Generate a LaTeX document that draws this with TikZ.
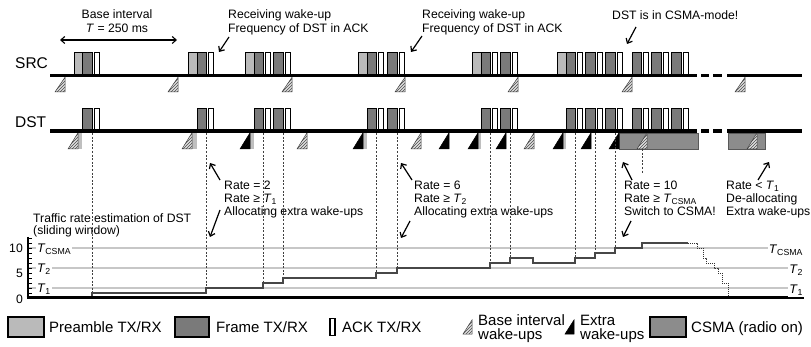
\documentclass[tikz,border=0pt]{standalone}
\usepackage{fontspec}
\setmainfont{Liberation Sans}
\usetikzlibrary{arrows.meta,patterns}
\begin{document}
\begin{tikzpicture}[x=1pt,y=-1pt,
  tline/.style={line width=3.6pt},
  pream/.style={fill=black!27, draw=black, line width=0.9pt},
  frm/.style={fill=black!52, draw=black, line width=0.9pt},
  ackbox/.style={fill=white, draw=black, line width=0.9pt},
  hw/.style={pattern=north east lines, pattern color=black!70, preaction={fill=black!12}, draw=black!75, line width=0.5pt},
  xw/.style={fill=black, draw=black, line width=0.5pt},
  rxstrip/.style={fill=black!25},
  csmareg/.style={fill=black!45, draw=black!65, line width=0.5pt},
  dsh/.style={dash pattern=on 2pt off 1.6pt, line width=0.6pt, black!75},
  thr/.style={black!22, line width=1.3pt},
  stepl/.style={black!72, line width=1.4pt},
  ann/.style={font=\fontsize{12.2}{14}\selectfont, inner sep=0pt},
  tlab/.style={font=\fontsize{12.5}{14}\selectfont, inner sep=0.8pt, fill=white},
  leg/.style={font=\fontsize{15}{17}\selectfont, inner sep=0pt},
  big/.style={font=\fontsize{15.5}{17}\selectfont, inner sep=0pt},
  arr/.style={-{Straight Barb[length=4pt,width=7pt]}, line width=1.2pt},
  darr/.style={{Straight Barb[length=4pt,width=7pt]}-{Straight Barb[length=4pt,width=7pt]}, line width=1.1pt},
]
\useasboundingbox (0,0) rectangle (811,347);

% ---------------- row labels
\node[big, anchor=base west] (src) at (15,68.4) {SRC};
\node[big, anchor=base west] (dst) at (15,127.4) {DST};

% ---------------- blocks (SRC top 52, DST top 108)
\foreach \a/\b in {74/82, 188/197, 245/254, 358/367, 472/481, 557/566}
  \draw[pream] (\a,52) rectangle (\b,75);
\foreach \t in {52,108}{
  \foreach \a/\b in {82/92, 197/206, 254/263, 273/283, 367/376, 387/397, 481/490, 500/510, 566/575, 585/595, 605/615, 632/641, 651/661, 671/681}
    \draw[frm] (\a,\t) rectangle (\b,\t+23);
  \foreach \a/\b in {94/99, 208/213, 265/270, 285/290, 378/383, 399/404, 492/497, 512/517, 577/582, 597/602, 617/622, 643/648, 663/668, 683/688}
    \draw[ackbox] (\a,\t) rectangle (\b,\t+23);
}

% ---------------- CSMA regions under DST
\draw[csmareg] (619,132.8) rectangle (698,149);
\draw[csmareg] (728,132.8) rectangle (765,149);

% ---------------- wake-ups SRC
\foreach \x in {65,178,292,405,518,632,745}
  \draw[hw] (\x-10,92) -- (\x,92) -- (\x,77.3) -- cycle;

% ---------------- wake-ups DST
\foreach \x/\e in {78/82, 192/197, 250/254, 363/367, 478/481, 563/566}
  \fill[rxstrip] (\x,132.8) rectangle (\e,149);
\foreach \x in {78,192,307,421,534,647,757}
  \draw[hw] (\x-10,149) -- (\x,149) -- (\x,132.8) -- cycle;
\foreach \x in {250,363,449,478,506,563,591,619}
  \draw[xw] (\x-10,149) -- (\x,149) -- (\x,132.8) -- cycle;

% ---------------- timelines
\foreach \yy in {75.5,131}{
  \draw[tline] (50,\yy) -- (697,\yy);
  \draw[tline] (701,\yy) -- (709,\yy);
  \draw[tline] (713,\yy) -- (722,\yy);
  \draw[tline] (727,\yy) -- (802,\yy);
}

% ---------------- graph
\draw[thr] (28,248) -- (803,248);
\draw[thr] (28,268) -- (803,268);
\draw[thr] (28,288) -- (803,288);

\foreach \x/\yv in {92/293, 206/288, 263/283, 283/278, 376/273, 397/268, 490/263, 510/258, 575/258, 595/253, 615/248}
  \draw[dsh] (\x,133) -- (\x,\yv);
\draw[dsh] (642,149) -- (642,173);

\draw[stepl] (28,298) -- (92,298) -- (92,293) -- (206,293) -- (206,288) -- (263,288) -- (263,283) -- (283,283) -- (283,278) -- (376,278) -- (376,273) -- (397,273) -- (397,268) -- (490,268) -- (490,263) -- (510,263) -- (510,258) -- (533,258) -- (533,263) -- (575,263) -- (575,258) -- (595,258) -- (595,253) -- (615,253) -- (615,248) -- (642,248) -- (642,243) -- (688,243);
\draw[black!80, line width=0.9pt, dash pattern=on 1pt off 1pt] (688,243) -- (697,243) -- (697,248) -- (703,248) -- (703,258) -- (706,258) -- (706,263) -- (714,263) -- (714,268) -- (718,268) -- (718,273) -- (722,273) -- (722,283) -- (728,283) -- (728,298);

\foreach \v in {0,...,12}
  \draw[line width=0.7pt] (28,{298-5*\v}) -- (31.5,{298-5*\v});
\draw[line width=2.6pt] (28,237) -- (28,298);
\draw[line width=3pt] (26.7,298) -- (804,298);

\node[ann, anchor=base east] (v10) at (23,252.5) {10};
\node[ann, anchor=base east] (v5) at (23,277.5) {5};
\node[ann, anchor=base east] (v0) at (23,303) {0};

\node[tlab, anchor=base west] (tcl) at (36,253) {\textit{T}\textsubscript{CSMA}};
\node[tlab, anchor=base west] (t2l) at (36,273) {\textit{T}\textsubscript{2}};
\node[tlab, anchor=base west] (t1l) at (36,293) {\textit{T}\textsubscript{1}};
\node[tlab, anchor=base east] (tcr) at (804,254) {\textit{T}\textsubscript{CSMA}};
\node[tlab, anchor=base east] (t2r) at (804,274) {\textit{T}\textsubscript{2}};
\node[tlab, anchor=base east] (t1r) at (804,294) {\textit{T}\textsubscript{1}};

% ---------------- top annotations
\node[ann, anchor=base] (bi) at (117,19) {Base interval};
\node[ann, anchor=base] (bt) at (117,32.5) {\textit{T} = 250 ms};
\coordinate (bA) at (60,40); \coordinate (bB) at (177,40);
\draw[darr] (bA) -- (bB);

\node[ann, anchor=base west] (r1a) at (228,19) {Receiving wake-up};
\node[ann, anchor=base west] (r1b) at (228,32.5) {Frequency of DST in ACK};
\coordinate (r1t) at (229,37); \coordinate (r1h) at (219,52);
\draw[arr] (r1t) -- (r1h);

\node[ann, anchor=base west] (r2a) at (422,19) {Receiving wake-up};
\node[ann, anchor=base west] (r2b) at (422,32.5) {Frequency of DST in ACK};
\coordinate (r2t) at (422,36); \coordinate (r2h) at (411,52);
\draw[arr] (r2t) -- (r2h);

\node[ann, anchor=base west] (cm) at (612,20) {DST is in CSMA-mode!};
\coordinate (cmt) at (636,27); \coordinate (cmh) at (627,44);
\draw[arr] (cmt) -- (cmh);

% ---------------- middle annotations
\node[ann, anchor=base west] (tr1) at (33,222.5) {Traffic rate estimation of DST};
\node[ann, anchor=base west] (tr2) at (33,235) {(sliding window)};

\node[ann, anchor=base west] (a1) at (224,190) {Rate = 2};
\node[ann, anchor=base west] (a2) at (224,203) {Rate ≥ \textit{T}\textsubscript{1}};
\node[ann, anchor=base west] (a3) at (224,216) {Allocating extra wake-ups};
\coordinate (a1t) at (220,180); \coordinate (a1h) at (210,163);
\coordinate (a2t) at (220,210); \coordinate (a2h) at (210,237);
\draw[arr] (a1t) -- (a1h);
\draw[arr] (a2t) -- (a2h);

\node[ann, anchor=base west] (b1) at (414,190) {Rate = 6};
\node[ann, anchor=base west] (b2) at (414,203) {Rate ≥ \textit{T}\textsubscript{2}};
\node[ann, anchor=base west] (b3) at (414,216) {Allocating extra wake-ups};
\coordinate (b1t) at (412,180); \coordinate (b1h) at (401,163);
\coordinate (b2t) at (410,221); \coordinate (b2h) at (401,238);
\draw[arr] (b1t) -- (b1h);
\draw[arr] (b2t) -- (b2h);

\node[ann, anchor=base west] (c1) at (624,190) {Rate = 10};
\node[ann, anchor=base west] (c2) at (624,203) {Rate ≥ \textit{T}\textsubscript{CSMA}};
\node[ann, anchor=base west] (c3) at (624,216) {Switch to CSMA!};
\coordinate (c1t) at (632,180); \coordinate (c1h) at (623,162);
\coordinate (c2t) at (631,221); \coordinate (c2h) at (623,237);
\draw[arr] (c1t) -- (c1h);
\draw[arr] (c2t) -- (c2h);

\node[ann, anchor=base west] (d1) at (726,190) {Rate < \textit{T}\textsubscript{1}};
\node[ann, anchor=base west] (d2) at (726,203) {De-allocating};
\node[ann, anchor=base west] (d3) at (726,216) {Extra wake-ups};
\coordinate (d1t) at (758,180); \coordinate (d1h) at (769,162);
\draw[arr] (d1t) -- (d1h);

% ---------------- legend
\draw[pream, line width=1.1pt] (8,317) rectangle (44,337);
\node[leg, anchor=base west] (lp) at (49,332.4) {Preamble TX/RX};
\draw[frm, line width=1.1pt] (175,317) rectangle (209,337);
\node[leg, anchor=base west] (lf) at (216,332.4) {Frame TX/RX};
\draw[ackbox, line width=1.1pt] (330,318.5) rectangle (335,335.5);
\node[leg, anchor=base west] (la) at (342,332.4) {ACK TX/RX};
\draw[hw] (463,334) -- (472,334) -- (472,320) -- cycle;
\node[leg, anchor=base west] (lb1) at (478,325) {Base interval};
\node[leg, anchor=base west] (lb2) at (478,339) {wake-ups};
\draw[xw] (565,334) -- (574,334) -- (574,320) -- cycle;
\node[leg, anchor=base west] (le1) at (580,325) {Extra};
\node[leg, anchor=base west] (le2) at (580,339) {wake-ups};
\draw[csmareg, draw=black, line width=1.1pt] (650,317) rectangle (686,337);
\node[leg, anchor=base west] (lc) at (691,332.4) {CSMA (radio on)};
\end{tikzpicture}
\end{document}
